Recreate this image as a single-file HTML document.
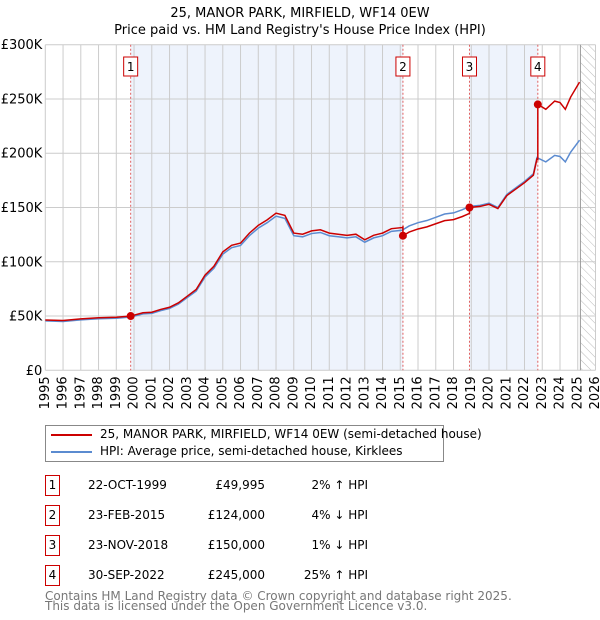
<!DOCTYPE html>
<html><head><meta charset="utf-8"><style>
body{margin:0;background:#fff;font-family:"DejaVu Sans","Liberation Sans",sans-serif;}
#wrap{position:relative;width:600px;height:620px;overflow:hidden;}
.t{position:absolute;font-size:12px;color:#000;white-space:nowrap;}
.box{position:absolute;width:13px;height:19px;border:1px solid #c00;font-size:12px;text-align:center;line-height:19px;}
</style></head><body><div id="wrap">
<svg id="chart" width="600" height="420" style="position:absolute;left:0;top:0"></svg>
<div style="position:absolute;left:45px;top:425px;width:397px;height:35px;border:1px solid #888;">
 <div><div style="position:absolute;left:5px;top:8px;width:41px;height:2px;background:#c00"></div><span class="t" style="left:54px;top:1px">25, MANOR PARK, MIRFIELD, WF14 0EW (semi-detached house)</span></div>
 <div><div style="position:absolute;left:5px;top:25px;width:41px;height:2px;background:#5b8bd0"></div><span class="t" style="left:54px;top:18px">HPI: Average price, semi-detached house, Kirklees</span></div>
</div>
<div id="table"></div>
<div class="t" style="left:45px;top:589px;color:#777">Contains HM Land Registry data © Crown copyright and database right 2025.</div>
<div class="t" style="left:45px;top:599px;color:#777">This data is licensed under the Open Government Licence v3.0.</div>
</div>
<script>
const hpiYears=[1995,1996,1997,1998,1999,1999.8,2000.5,2001,2001.5,2002,2002.5,2003,2003.5,2004,2004.5,2005,2005.5,2006,2006.5,2007,2007.5,2008,2008.5,2009,2009.5,2010,2010.5,2011,2011.5,2012,2012.5,2013,2013.5,2014,2014.5,2015.1,2015.5,2016,2016.5,2017,2017.5,2018,2018.5,2018.9,2019.5,2020,2020.5,2021,2021.5,2022,2022.5,2022.7,2023.2,2023.7,2024,2024.3,2024.6,2025.1];
const hpiValues=[45500,45000,46500,47500,48000,49000,52000,52500,55000,57000,61000,67000,73000,86000,94000,107000,113000,115000,124000,131000,136000,142000,140000,124000,123000,126000,127000,124000,123000,122000,123000,118000,122000,124000,128000,129000,133000,136000,138000,141000,144000,145000,148000,151000,152000,154000,150000,162000,168000,174000,181000,196000,192000,198000,197000,192000,201000,212000];
const saleYears=[1999.81,2015.15,2018.9,2022.75];
const salePrices=[49995,124000,150000,245000];
const saleDates=["22-OCT-1999","23-FEB-2015","23-NOV-2018","30-SEP-2022"];
const salePriceLabels=["£49,995","£124,000","£150,000","£245,000"];
const saleDiffs=["2% ↑ HPI","4% ↓ HPI","1% ↓ HPI","25% ↑ HPI"];
const yTicks=[0,50000,100000,150000,200000,250000,300000];
const yTickLabels=["£0","£50K","£100K","£150K","£200K","£250K","£300K"];
const xTicks=[1995,1996,1997,1998,1999,2000,2001,2002,2003,2004,2005,2006,2007,2008,2009,2010,2011,2012,2013,2014,2015,2016,2017,2018,2019,2020,2021,2022,2023,2024,2025,2026];
const NS="http://www.w3.org/2000/svg";
const FF='DejaVu Sans, Liberation Sans, sans-serif';
const L=45.3,R=595.5,T=44.7,B=370.3;
const x=y=>L+(y-1995)*(R-L)/31;
const yv=v=>B-v*(B-T)/300000;
const svg=document.getElementById('chart');
function mk(tag,a,name){const e=document.createElementNS(NS,tag);for(const k in a)e.setAttribute(k,a[k]);


svg.appendChild(e);return e;}
function hpiAt(t){for(let i=0;i<hpiYears.length-1;i++){if(t<=hpiYears[i+1]){const f=(t-hpiYears[i])/(hpiYears[i+1]-hpiYears[i]);return hpiValues[i]+f*(hpiValues[i+1]-hpiValues[i]);}}return hpiValues[hpiValues.length-1];}
let tt=mk('text',{x:300,y:17,'text-anchor':'middle','font-size':13,'font-family':FF},'chart-title');tt.textContent='25, MANOR PARK, MIRFIELD, WF14 0EW';
tt=mk('text',{x:300,y:34,'text-anchor':'middle','font-size':13,'font-family':FF},'chart-subtitle');tt.textContent="Price paid vs. HM Land Registry's House Price Index (HPI)";
mk('rect',{x:x(saleYears[0]),y:T,width:x(saleYears[1])-x(saleYears[0]),height:B-T,fill:'#eef3fc'},'shade-1');
mk('rect',{x:x(saleYears[2]),y:T,width:x(saleYears[3])-x(saleYears[2]),height:B-T,fill:'#eef3fc'},'shade-3');
const defs=document.createElementNS(NS,'defs');defs.innerHTML='<pattern id="h" width="6" height="6" patternUnits="userSpaceOnUse" patternTransform="rotate(-45)"><line x1="0" y1="0" x2="0" y2="6" stroke="#bbb" stroke-width="1"/></pattern>';svg.appendChild(defs);
mk('rect',{x:x(2025.15),y:T,width:R-x(2025.15),height:B-T,fill:'url(#h)'},'future-hatch');
xTicks.forEach((t,i)=>{mk('line',{x1:x(t),x2:x(t),y1:T,y2:B,stroke:'#ccc'},'x-grid-'+t);
const tx=mk('text',{x:0,y:0,'font-size':13,'text-anchor':'end','dominant-baseline':'central',transform:`translate(${x(t)},${B+6}) rotate(-90)`,'font-family':FF},'x-tick-'+t);tx.textContent=t;});
yTicks.forEach((v,i)=>{mk('line',{x1:L,x2:R,y1:yv(v),y2:yv(v),stroke:'#ccc'},'y-grid-'+i);
const tx=mk('text',{x:L-3,y:yv(v)+4.5,'font-size':13,'text-anchor':'end','font-family':FF},'y-tick-label-'+i);tx.textContent=yTickLabels[i];});
mk('line',{x1:x(2025.15),x2:x(2025.15),y1:T,y2:B,stroke:'#999'},'today-line');
saleYears.forEach((s,i)=>{mk('line',{x1:x(s),x2:x(s),y1:T,y2:B,stroke:'#e06060','stroke-dasharray':'2,2'},'sale-line-'+(i+1));
mk('rect',{x:x(s)-7,y:57,width:14,height:19,fill:'#fff',stroke:'#c00'},'sale-label-box-'+(i+1));
const tx=mk('text',{x:x(s),y:71,'font-size':12,'text-anchor':'middle','font-family':FF},'sale-label-'+(i+1));tx.textContent=i+1;});
mk('polyline',{points:hpiYears.map((t,i)=>x(t)+','+yv(hpiValues[i])).join(' '),fill:'none',stroke:'#5b8bd0','stroke-width':1.5},'hpi-line');
const ratios=saleYears.map((s,i)=>salePrices[i]/hpiAt(s));
const pts=[];
function ratioAt(t){let r=ratios[0];saleYears.forEach((s,i)=>{if(t>=s)r=ratios[i];});return r;}
const ts=[...hpiYears,...saleYears].sort((a,b)=>a-b);
ts.forEach(t=>{saleYears.forEach((s,i)=>{if(i>0&&Math.abs(t-s)<1e-9){pts.push(x(t)+','+yv(hpiAt(t)*ratios[i-1]));}});pts.push(x(t)+','+yv(hpiAt(t)*ratioAt(t)));});
mk('polyline',{points:pts.join(' '),fill:'none',stroke:'#c00','stroke-width':1.5},'price-line');
saleYears.forEach((s,i)=>mk('circle',{cx:x(s),cy:yv(salePrices[i]),r:4,fill:'#c00'},'sale-point-'+(i+1)));
const tb=document.getElementById('table');
saleYears.forEach((s,i)=>{const top=475+i*30;
const b=document.createElement('div');b.className='box';b.style.left='45px';b.style.top=top+'px';b.textContent=i+1;

tb.appendChild(b);
const d=document.createElement('div');d.className='t';d.style.left='88px';d.style.top=(top+3)+'px';d.textContent=saleDates[i];

tb.appendChild(d);
const p=document.createElement('div');p.className='t';p.style.right=(600-265)+'px';p.style.top=(top+3)+'px';p.textContent=salePriceLabels[i];

tb.appendChild(p);
const q=document.createElement('div');q.className='t';q.style.right=(600-368)+'px';q.style.top=(top+3)+'px';q.textContent=saleDiffs[i];

tb.appendChild(q);});
</script></body></html>
